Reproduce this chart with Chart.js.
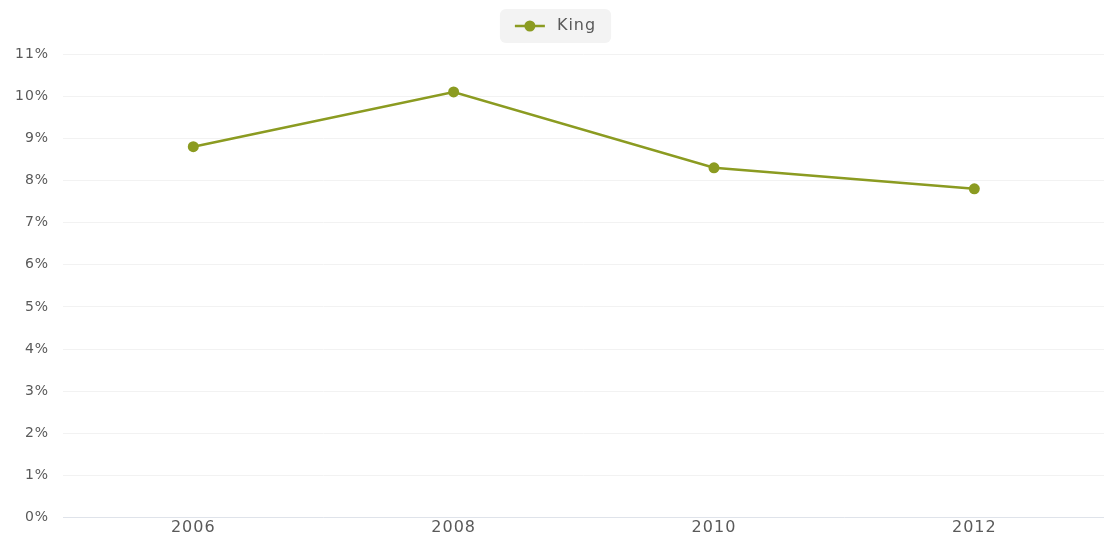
<!DOCTYPE html>
<html lang="en">
<head>
    <meta charset="UTF-8" />
    <title>King</title>
    <script src="https://cdn.jsdelivr.net/npm/chart.js"></script>
    <style>
        html, body { margin: 0; padding: 0; background: #fff; overflow: hidden; }
        .box { width: 1110px; height: 540px; }
    </style>
</head>
<body>
<div class="box"><canvas id="canvas1"></canvas></div>

<script>
    const anos = ['2006', '2008', '2010', '2012'];
    const king = [8.8, 10.1, 8.3, 7.8];
    const cor = '#8b9b21';

    // texto mais largo, como no original
    const espacamento = {
        id: 'espacamento',
        beforeInit(chart) {
            const fit = chart.legend.fit;
            chart.legend.fit = function () {
                fit.call(this);
                this.height += 10;
            };
        },
        beforeLayout(chart) { chart.ctx.letterSpacing = '1px'; },
        beforeDraw(chart) { chart.ctx.letterSpacing = '1px'; }
    };

    // fundo cinza do legend + símbolo linha com bolinha
    const legendaFundo = {
        id: 'legendaFundo',
        beforeDraw(chart) {
            const lg = chart.legend;
            if (!lg || !lg.legendHitBoxes.length) return;
            const h = lg.legendHitBoxes[0];
            const ctx = chart.ctx;
            ctx.save();
            ctx.fillStyle = '#f3f3f3';
            ctx.beginPath();
            ctx.roundRect(h.left - 15, h.top - 9, h.width + 30, h.height + 18, 6);
            ctx.fill();
            ctx.restore();
        },
        afterDraw(chart) {
            const lg = chart.legend;
            if (!lg || !lg.legendHitBoxes.length) return;
            const h = lg.legendHitBoxes[0];
            const ctx = chart.ctx;
            const y = h.top + h.height / 2;
            ctx.save();
            ctx.strokeStyle = cor;
            ctx.lineWidth = 2.5;
            ctx.beginPath();
            ctx.moveTo(h.left, y);
            ctx.lineTo(h.left + 30, y);
            ctx.stroke();
            ctx.fillStyle = cor;
            ctx.beginPath();
            ctx.arc(h.left + 15, y, 5.5, 0, Math.PI * 2);
            ctx.fill();
            ctx.restore();
        }
    };

    new Chart(document.getElementById('canvas1'), {
        type: 'line',
        data: {
            labels: anos,
            datasets: [{
                label: 'King',
                data: king,
                borderColor: cor,
                backgroundColor: cor,
                borderWidth: 2.5,
                pointRadius: 5.5,
                pointBackgroundColor: cor,
                pointBorderWidth: 0,
                tension: 0
            }]
        },
        options: {
            responsive: true,
            maintainAspectRatio: false,
            animation: false,
            layout: { padding: { left: 1, right: 0, top: 6, bottom: 0 } },
            plugins: {
                legend: {
                    position: 'top',
                    labels: {
                        boxWidth: 34,
                        boxHeight: 12,
                        padding: 12,
                        color: '#5a5a5a',
                        font: { family: 'DejaVu Sans', size: 16 },
                        generateLabels(chart) {
                            return Chart.defaults.plugins.legend.labels.generateLabels(chart).map(l => {
                                l.fillStyle = 'rgba(0,0,0,0)';
                                l.strokeStyle = 'rgba(0,0,0,0)';
                                l.lineWidth = 0;
                                return l;
                            });
                        }
                    }
                },
                tooltip: { enabled: false }
            },
            scales: {
                x: {
                    offset: true,
                    grid: { display: false, drawTicks: false },
                    border: { color: '#dfe3ea', width: 1 },
                    ticks: {
                        color: '#5a5a5a',
                        padding: 1,
                        font: { family: 'DejaVu Sans', size: 16 }
                    }
                },
                y: {
                    min: 0,
                    max: 11,
                    grid: { color: '#f2f2f2', drawTicks: false },
                    border: { display: false },
                    ticks: {
                        stepSize: 1,
                        color: '#5a5a5a',
                        padding: 14,
                        font: { family: 'DejaVu Sans', size: 14 },
                        callback: v => v + '%'
                    }
                }
            }
        },
        plugins: [espacamento, legendaFundo]
    });
</script>
</body>
</html>
